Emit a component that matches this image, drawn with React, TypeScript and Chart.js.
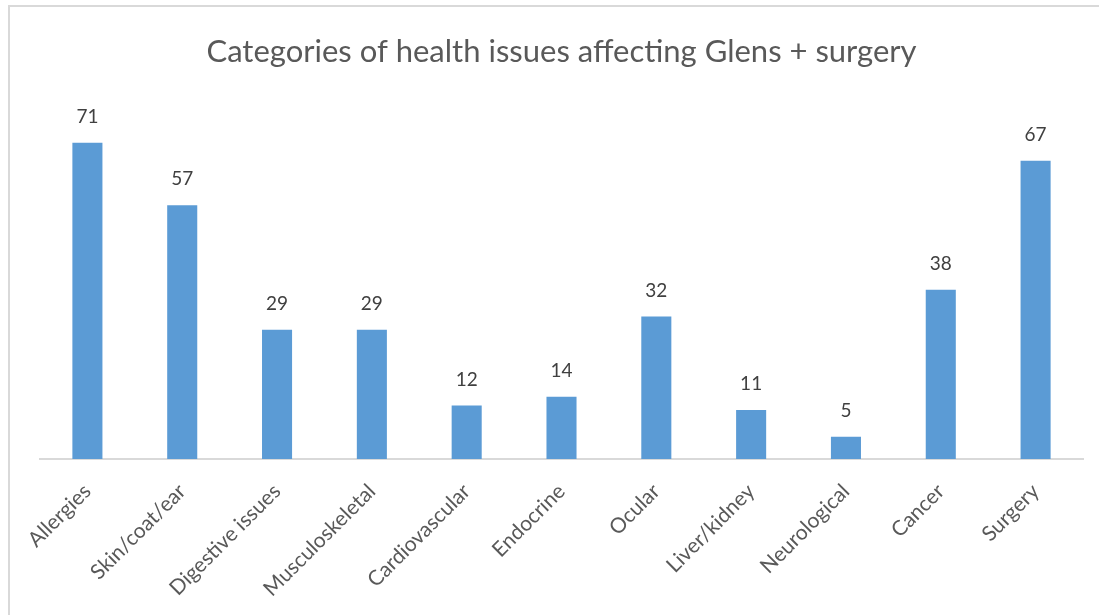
import React, { useEffect, useRef } from "react";
import { Chart, registerables } from "chart.js";

Chart.register(...registerables);

const categories = [
  "Allergies",
  "Skin/coat/ear",
  "Digestive issues",
  "Musculoskeletal",
  "Cardiovascular",
  "Endocrine",
  "Ocular",
  "Liver/kidney",
  "Neurological",
  "Cancer",
  "Surgery",
];
const counts = [71, 57, 29, 29, 12, 14, 32, 11, 5, 38, 67];
const titleText = "Categories of health issues affecting Glens + surgery";

const FONT = "Lato, 'Open Sans', sans-serif";

const valueLabels = {
  id: "valueLabels",
  afterDatasetsDraw(chart: any) {
    const ctx = chart.ctx;
    const meta = chart.getDatasetMeta(0);
    ctx.save();
    ctx.font = `19px ${FONT}`;
    ctx.fillStyle = "#404040";
    ctx.textAlign = "center";
    ctx.textBaseline = "middle";
    meta.data.forEach((bar: any, i: number) => {
      ctx.fillText(String(chart.data.datasets[0].data[i]), bar.x, bar.y - 26);
    });
    ctx.restore();
  },
};

export default function App() {
  const ref = useRef<HTMLCanvasElement>(null);
  useEffect(() => {
    if (!ref.current) return;
    const chart = new Chart(ref.current, {
      type: "bar",
      data: {
        labels: categories,
        datasets: [
          {
            data: counts,
            backgroundColor: "#5b9bd5",
            categoryPercentage: 1,
            barPercentage: 0.317,
          },
        ],
      },
      options: {
        animation: false,
        responsive: false,
        maintainAspectRatio: false,
        layout: { padding: { left: 40, right: 16, top: 33, bottom: 0 } },
        plugins: {
          legend: { display: false },
          tooltip: { enabled: false },
          title: {
            display: true,
            text: titleText,
            color: "#595959",
            font: { family: FONT, size: 31, weight: "normal" },
            padding: { top: 0, bottom: 37 },
          },
        },
        scales: {
          x: {
            grid: { display: false },
            border: { display: true, color: "#d9d9d9", width: 2 },
            ticks: {
              color: "#595959",
              font: { family: FONT, size: 21 },
              minRotation: 45,
              maxRotation: 45,
              autoSkip: false,
              padding: 12,
            },
            afterFit: (s: any) => {
              s.height = 156;
            },
          },
          y: {
            display: false,
            min: 0,
            max: 79,
          },
        },
      },
      plugins: [valueLabels],
    });
    return () => chart.destroy();
  }, []);
  return (
    <div style={{ position: "absolute", left: 0, top: 0, width: 1099, height: 615, background: "#fff" }}>
      <canvas ref={ref} width={1099} height={615} style={{ position: "absolute", left: 0, top: 0 }} />
      <div
        style={{
          position: "absolute",
          left: 8,
          top: 5,
          width: 1091,
          height: 610,
          borderTop: "2px solid #d9d9d9",
          borderLeft: "2px solid #d9d9d9",
          boxSizing: "border-box",
          pointerEvents: "none",
        }}
      />
    </div>
  );
}
